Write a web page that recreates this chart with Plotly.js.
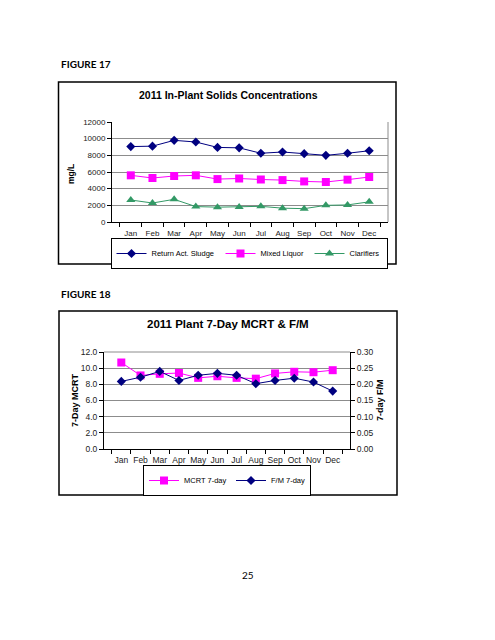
<!DOCTYPE html>
<html>
<head>
<meta charset="utf-8">
<script src="https://cdn.plot.ly/plotly-3.0.1.min.js"></script>
<style>html,body{margin:0;padding:0;background:#fff;}#chart{width:495px;height:640px;}</style>
</head>
<body>
<div id="chart"></div>
<script>
// ---- Data ----
const months = ["Jan","Feb","Mar","Apr","May","Jun","Jul","Aug","Sep","Oct","Nov","Dec"];
const returnActSludge = [9050, 9100, 9800, 9600, 8950, 8900, 8250, 8400, 8200, 8000, 8250, 8550];
const mixedLiquor = [5600, 5280, 5520, 5600, 5150, 5220, 5100, 5030, 4870, 4800, 5080, 5400];
const clarifiers = [2640, 2280, 2720, 1850, 1780, 1800, 1880, 1660, 1600, 2000, 2050, 2420];
const mcrt7day = [10.7, 9.1, 9.3, 9.4, 8.8, 9.0, 8.8, 8.7, 9.35, 9.55, 9.5, 9.75];
const fm7day = [0.209, 0.222, 0.240, 0.212, 0.228, 0.234, 0.228, 0.202, 0.212, 0.219, 0.207, 0.179];

const W = 495, H = 640;
const px = v => v / W;
const py = v => 1 - v / H;
const AR = "Liberation Sans, Arial, sans-serif";
const tickFont1 = {family: AR, size: 8, color: "#222"};
const tickFont2 = {family: AR, size: 8.5, color: "#222"};

const traces = [
  {x: months, y: returnActSludge, name: "Return Act. Sludge", type: "scatter", mode: "lines+markers",
   xaxis: "x", yaxis: "y", legend: "legend", legendwidth: 64,
   line: {color: "#000080", width: 1}, marker: {symbol: "diamond", size: 7, color: "#000080"}},
  {x: months, y: mixedLiquor, name: "Mixed Liquor", type: "scatter", mode: "lines+markers",
   xaxis: "x", yaxis: "y", legend: "legend", legendwidth: 44,
   line: {color: "#FF00FF", width: 1}, marker: {symbol: "square", size: 8, color: "#FF00FF"}},
  {x: months, y: clarifiers, name: "Clarifiers", type: "scatter", mode: "lines+markers",
   xaxis: "x", yaxis: "y", legend: "legend", legendwidth: 32,
   line: {color: "#339966", width: 1}, marker: {symbol: "triangle-up", size: 8, color: "#339966"}},
  {x: months, y: mcrt7day, name: "MCRT 7-day", type: "scatter", mode: "lines+markers",
   xaxis: "x2", yaxis: "y2", legend: "legend2", legendwidth: 42,
   line: {color: "#FF00FF", width: 1}, marker: {symbol: "square", size: 8, color: "#FF00FF"}},
  {x: months, y: fm7day, name: "F/M 7-day", type: "scatter", mode: "lines+markers",
   xaxis: "x2", yaxis: "y3", legend: "legend2", legendwidth: 34,
   line: {color: "#000080", width: 1}, marker: {symbol: "diamond", size: 7, color: "#000080"}}
];

const baseX = {type: "category", showline: true, linecolor: "#000", linewidth: 1,
  ticks: "outside", ticklen: 4, tickcolor: "#000", tickson: "boundaries", tickangle: 0,
  ticklabelstandoff: 3, showgrid: false, zeroline: false, fixedrange: true};
const baseY = {showline: true, linecolor: "#000", linewidth: 1, ticks: "outside", ticklen: 4,
  tickcolor: "#000", showgrid: true, gridcolor: "#8c8c8c", gridwidth: 1, zeroline: false,
  fixedrange: true};

const legendBase = {xanchor: "center", yanchor: "middle", orientation: "h",
  bordercolor: "#000", borderwidth: 1, bgcolor: "#fff", itemsizing: "trace",
  itemwidth: 30, font: {family: AR, size: 7.5, color: "#000"}};

const layout = {
  width: W, height: H,
  margin: {l: 0, r: 0, t: 0, b: 0},
  paper_bgcolor: "#fff", plot_bgcolor: "rgba(0,0,0,0)",
  showlegend: true,
  xaxis: Object.assign({}, baseX, {domain: [px(112), px(388)], anchor: "y", tickfont: tickFont1}),
  yaxis: Object.assign({}, baseY, {domain: [py(222), py(122)], anchor: "x",
    range: [0, 12000], dtick: 2000, tickformat: "d", tickfont: tickFont1}),
  xaxis2: Object.assign({}, baseX, {domain: [px(104), px(350)], anchor: "y2", tickfont: tickFont2}),
  yaxis2: Object.assign({}, baseY, {domain: [py(449), py(352)], anchor: "x2",
    range: [0, 12], dtick: 2, tickformat: ".1f", tickfont: tickFont2}),
  yaxis3: Object.assign({}, baseY, {overlaying: "y2", side: "right", anchor: "x2",
    range: [0, 0.30], dtick: 0.05, tickformat: ".2f", showgrid: false, tickfont: tickFont2}),
  legend: Object.assign({}, legendBase, {x: px(249), y: py(253.5)}),
  legend2: Object.assign({}, legendBase, {x: px(227), y: py(480.5)}),
  shapes: [
    {type: "rect", xref: "paper", yref: "paper", x0: px(58.5), x1: px(396), y0: py(264), y1: py(82),
     line: {color: "#000", width: 1.5}},
    {type: "rect", xref: "paper", yref: "paper", x0: px(59), x1: px(397), y0: py(495), y1: py(311),
     line: {color: "#000", width: 1.5}},
    {type: "line", xref: "paper", yref: "paper", x0: px(388), x1: px(388), y0: py(222), y1: py(122),
     line: {color: "#8c8c8c", width: 1}},
    {type: "line", xref: "paper", yref: "paper", x0: px(104), x1: px(350), y0: py(352), y1: py(352),
     line: {color: "#8c8c8c", width: 1}}
  ],
  annotations: [
    {text: "<b>FIGURE 17</b>", xref: "paper", yref: "paper", x: px(59), y: py(64),
     xanchor: "left", yanchor: "middle", showarrow: false,
     font: {family: "Lato, Open Sans, sans-serif", size: 10, color: "#000"}},
    {text: "<b>FIGURE 18</b>", xref: "paper", yref: "paper", x: px(59), y: py(294),
     xanchor: "left", yanchor: "middle", showarrow: false,
     font: {family: "Lato, Open Sans, sans-serif", size: 10, color: "#000"}},
    {text: "25", xref: "paper", yref: "paper", x: px(248), y: py(575),
     xanchor: "center", yanchor: "middle", showarrow: false,
     font: {family: "Lato, Open Sans, sans-serif", size: 10, color: "#000"}},
    {text: "<b>2011 In-Plant Solids Concentrations</b>", xref: "paper", yref: "paper", x: px(228), y: py(95),
     xanchor: "center", yanchor: "middle", showarrow: false,
     font: {family: AR, size: 10.5, color: "#000"}},
    {text: "<b>mg/L</b>", xref: "paper", yref: "paper", x: px(71), y: py(174), textangle: -90,
     xanchor: "center", yanchor: "middle", showarrow: false,
     font: {family: AR, size: 8.5, color: "#000"}},
    {text: "<b>2011 Plant 7-Day MCRT &amp; F/M</b>", xref: "paper", yref: "paper", x: px(228), y: py(324),
     xanchor: "center", yanchor: "middle", showarrow: false,
     font: {family: AR, size: 11.5, color: "#000"}},
    {text: "<b>7-Day MCRT</b>", xref: "paper", yref: "paper", x: px(75), y: py(400), textangle: -90,
     xanchor: "center", yanchor: "middle", showarrow: false,
     font: {family: AR, size: 9, color: "#000"}},
    {text: "<b>7-day F/M</b>", xref: "paper", yref: "paper", x: px(380), y: py(400), textangle: -90,
     xanchor: "center", yanchor: "middle", showarrow: false,
     font: {family: AR, size: 9, color: "#000"}}
  ]
};

Plotly.newPlot("chart", traces, layout, {displayModeBar: false, staticPlot: true});
</script>
</body>
</html>
